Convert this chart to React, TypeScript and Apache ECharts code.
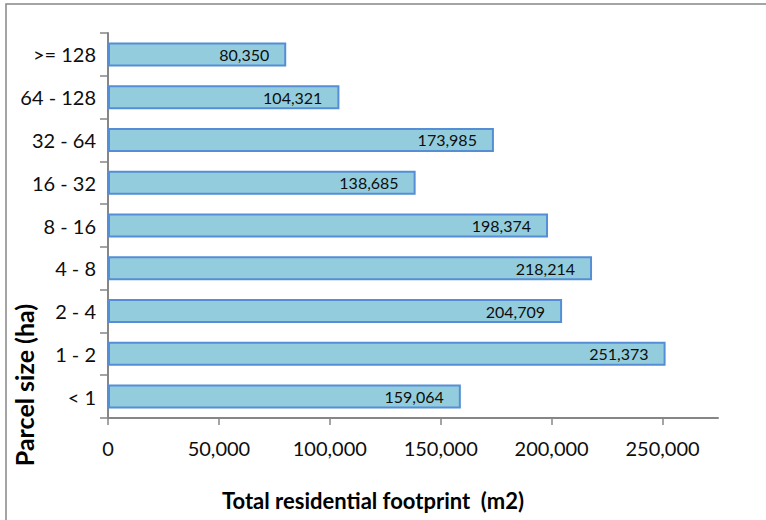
import React, { useEffect, useRef } from "react";
import * as echarts from "echarts";

const categories = ["< 1", "1 - 2", "2 - 4", "4 - 8", "8 - 16", "16 - 32", "32 - 64", "64 - 128", ">= 128"];
const footprint = [159064, 251373, 204709, 218214, 198374, 138685, 173985, 104321, 80350];
const xTitle = "Total residential footprint  (m2)";
const yTitle = "Parcel size (ha)";

const FONT = "Lato, 'Open Sans', sans-serif";

export default function App() {
  const ref = useRef<HTMLDivElement>(null);
  useEffect(() => {
    if (!ref.current) return;
    const chart = echarts.init(ref.current, null, { renderer: "svg" });
    const fmt = (v: number) => v.toLocaleString("en-US");
    chart.setOption({
      animation: false,
      backgroundColor: "#ffffff",
      grid: { left: 108, top: 33, width: 610, height: 385, containLabel: false },
      xAxis: {
        type: "value",
        min: 0,
        max: 275000,
        interval: 50000,
        axisLine: { show: true, lineStyle: { color: "#868686", width: 2 } },
        axisTick: { show: true, length: 7, lineStyle: { color: "#868686", width: 1.5 } },
        splitLine: { show: false },
        axisLabel: {
          margin: 20,
          fontSize: 20,
          fontFamily: FONT,
          color: "#0d0d0d",
          formatter: (v: number) => fmt(v),
          showMaxLabel: false,
        },
      },
      yAxis: {
        type: "category",
        data: categories,
        axisLine: { show: true, lineStyle: { color: "#868686", width: 2 } },
        axisTick: { show: true, length: 8, lineStyle: { color: "#868686", width: 1.5 } },
        axisLabel: { margin: 12, fontSize: 20, fontFamily: FONT, color: "#0d0d0d" },
      },
      series: [
        {
          type: "bar",
          data: footprint,
          barWidth: 24,
          itemStyle: { color: "#93CDDD", borderColor: "#558ED5", borderWidth: 2 },
          label: {
            show: true,
            position: "insideRight",
            distance: 17,
            fontSize: 16,
            fontFamily: FONT,
            color: "#0d0d0d",
            formatter: (p: any) => fmt(p.value),
          },
        },
      ],
      graphic: [
        {
          type: "rect",
          silent: true,
          shape: { x: 6, y: 4, width: 800, height: 600 },
          style: { fill: "none", stroke: "#868686", lineWidth: 1.5 },
        },
        {
          type: "text",
          x: 373,
          y: 500,
          style: {
            text: xTitle,
            font: `bold 22px ${FONT}`,
            fill: "#000000",
            textAlign: "center",
            textVerticalAlign: "middle",
          },
        },
        {
          type: "text",
          x: 24,
          y: 385,
          rotation: Math.PI / 2,
          style: {
            text: yTitle,
            font: `bold 25px ${FONT}`,
            fill: "#000000",
            textAlign: "center",
            textVerticalAlign: "middle",
          },
        },
      ],
    });
    return () => chart.dispose();
  }, []);
  return (
    <div
      ref={ref}
      style={{ position: "fixed", left: 0, top: 0, width: 766, height: 520 }}
    />
  );
}
